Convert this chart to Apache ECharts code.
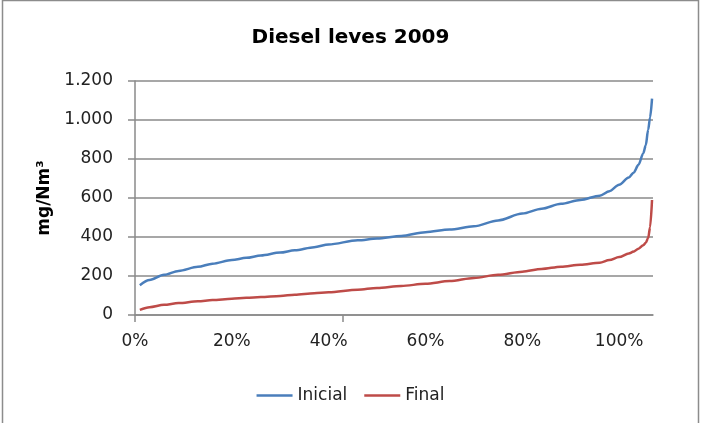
<!DOCTYPE html>
<html>
<head>
<meta charset="utf-8">
<script src="https://cdn.jsdelivr.net/npm/echarts@6/dist/echarts.min.js"></script>
<style>html,body{margin:0;padding:0;background:#fff}#c{width:701px;height:423px}</style>
</head>
<body>
<div id="c"></div>
<script>
var titleText = 'Diesel leves 2009';
var yAxisName = 'mg/Nm³';
var seriesNames = ['Inicial', 'Final'];
var xTickLabels = [0, 20, 40, 60, 80, 100];
var xTickMarks = [0, 43];
var xPos = [1, 3, 6, 9, 13, 16, 20, 23, 26, 30, 33, 37, 40, 46, 50, 55, 60, 65, 70, 75, 80, 84, 88, 92, 96, 98, 100, 102, 103, 104, 105, 105.5, 106, 106.4, 106.8];
var inicial = [153, 179, 206, 226, 247, 263, 282, 293, 305, 320, 332, 348, 362, 383, 392, 405, 425, 438, 455, 485, 520, 545, 570, 590, 612, 635, 668, 705, 730, 770, 830, 870, 950, 1013, 1110];
var final = [26, 40, 52, 61, 70, 77, 83, 88, 92, 98, 104, 112, 117, 130, 139, 149, 160, 174, 190, 206, 222, 236, 248, 258, 268, 282, 297, 315, 325, 340, 358, 370, 395, 450, 590];

function pairs(ys) { return xPos.map(function (x, i) { return [x, ys[i]]; }); }
function thousands(v) { return String(v).replace(/\B(?=(\d{3})+(?!\d))/g, '.'); }

var chart = echarts.init(document.getElementById('c'), null, { renderer: 'canvas' });
var font = 'DejaVu Sans';
chart.setOption({
  animation: false,
  backgroundColor: '#fff',
  title: {
    text: titleText, left: 'center', top: 23,
    textStyle: { fontFamily: font, fontWeight: 'bold', fontSize: 20, color: '#000' }
  },
  legend: {
    data: seriesNames, left: 'center', top: 382,
    icon: 'rect', itemWidth: 36, itemHeight: 2.5, itemGap: 17,
    textStyle: { fontFamily: font, fontSize: 17, color: '#222' }
  },
  grid: { left: 135, right: 48, top: 81, bottom: 108 },
  xAxis: {
    type: 'value', min: 0, max: 107,
    axisLine: { show: true, lineStyle: { color: '#8a8a8a', width: 1.5 } },
    axisTick: { show: true, length: 7, customValues: xTickMarks, lineStyle: { color: '#8a8a8a', width: 1.5 } },
    axisLabel: { customValues: xTickLabels, margin: 18, formatter: function (v) { return v + '%'; },
      fontFamily: font, fontSize: 17, color: '#222' },
    splitLine: { show: false }
  },
  yAxis: {
    type: 'value', min: 0, max: 1200, interval: 200,
    name: yAxisName, nameLocation: 'middle', nameGap: 82, nameRotate: 90,
    nameTextStyle: { fontFamily: font, fontWeight: 'bold', fontSize: 17, color: '#000' },
    axisLine: { show: true, lineStyle: { color: '#8a8a8a', width: 1.5 } },
    axisTick: { show: true, length: 7, lineStyle: { color: '#8a8a8a', width: 1.5 } },
    axisLabel: { margin: 22, formatter: thousands, fontFamily: font, fontSize: 17, color: '#222' },
    splitLine: { show: true, lineStyle: { color: '#8a8a8a', width: 1.5 } }
  },
  series: [
    { name: seriesNames[0], type: 'line', data: pairs(inicial), symbol: 'none', smooth: 0.3, smoothMonotone: 'x',
      lineStyle: { color: '#4a7ebb', width: 2.5 }, itemStyle: { color: '#4a7ebb' } },
    { name: seriesNames[1], type: 'line', data: pairs(final), symbol: 'none', smooth: 0.3, smoothMonotone: 'x',
      lineStyle: { color: '#be4b48', width: 2.5 }, itemStyle: { color: '#be4b48' } }
  ],
  graphic: [{
    type: 'rect', silent: true,
    shape: { x: 2.5, y: 0.5, width: 696, height: 440 },
    style: { fill: null, stroke: '#8c8c8c', lineWidth: 1.5 }
  }]
});
</script>
</body>
</html>
